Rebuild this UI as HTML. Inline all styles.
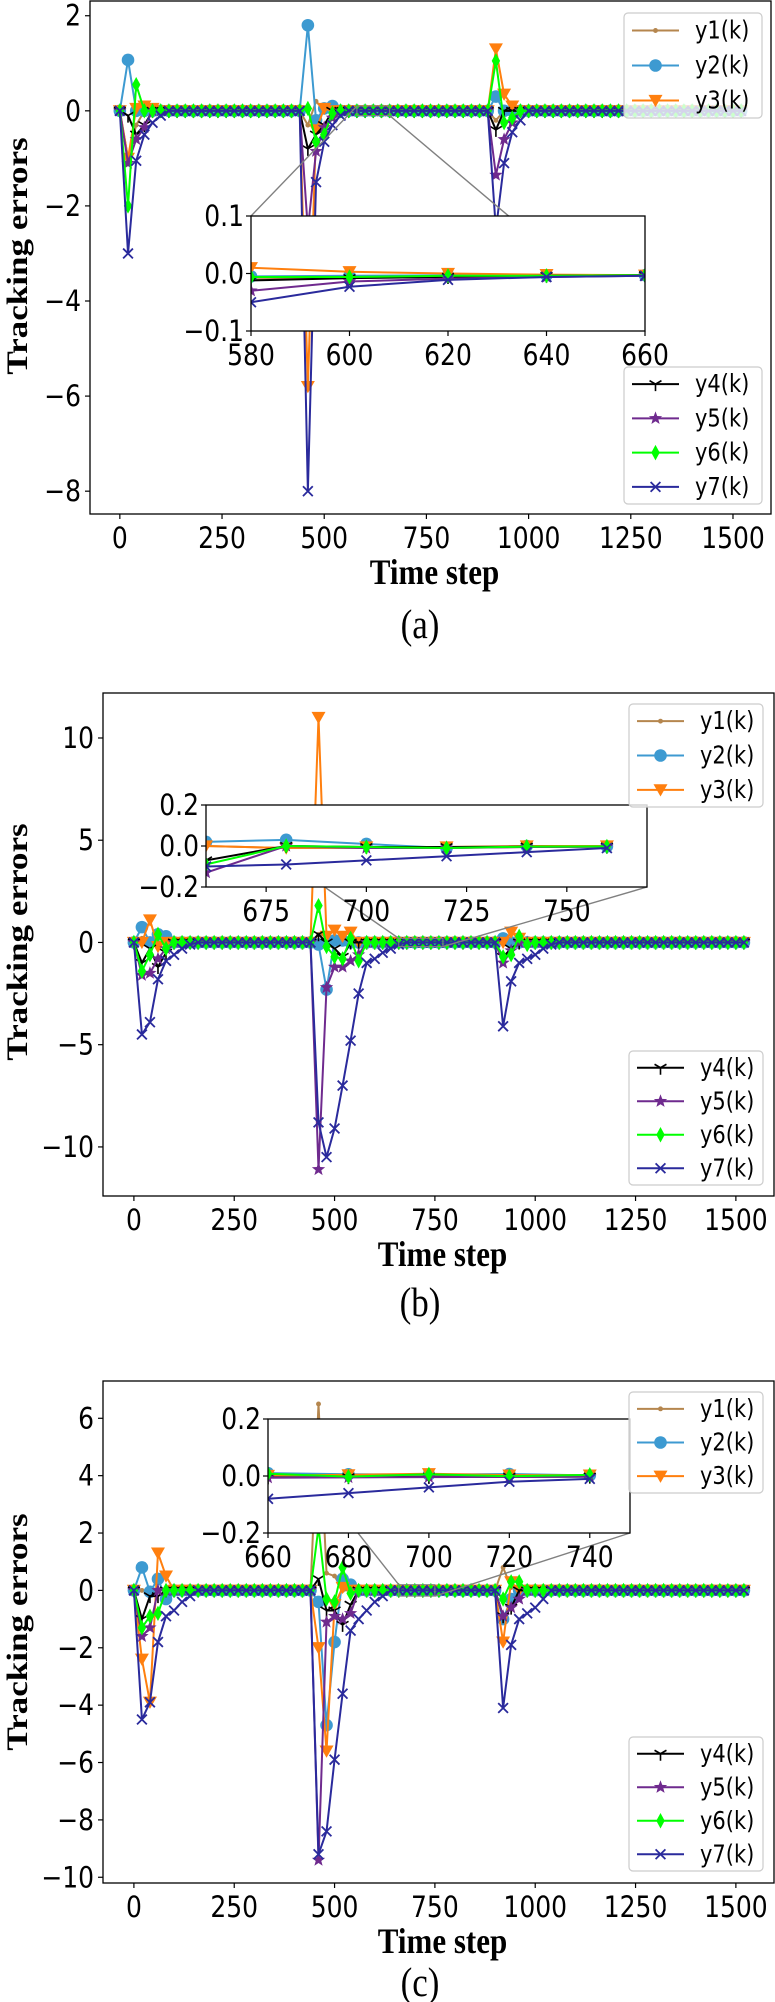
<!DOCTYPE html>
<html><head><meta charset="utf-8">
<style>
html,body{margin:0;padding:0;background:#fff;}
svg{display:block;}
text{font-family:"DejaVu Sans","Liberation Sans",sans-serif;}
.serif{font-family:"Liberation Serif",serif;}
</style></head>
<body>
<svg id="fig" width="775" height="2002" viewBox="0 0 775 2002" xmlns="http://www.w3.org/2000/svg"></svg>
<script>
// ---------- data ----------
const steps = []; for (let k = 0; k <= 1520; k += 20) steps.push(k);
const seriesNames = ['y1(k)','y2(k)','y3(k)','y4(k)','y5(k)','y6(k)','y7(k)'];
const colors = ['#b5864e','#3d9ad1','#ff7f0e','#000000','#6f2a8e','#00ff00','#2a2a9c'];
const markers = ['dot','circle','tri','y','star','diamond','x'];

// panel (a) nonzero samples [step, value]
const a_y1 = [[20,-1.0],[40,-0.3],[460,-0.3],[480,0.2],[920,-0.2]];
const a_y2 = [[20,1.07],[40,0.0],[460,1.8],[480,-0.2],[500,0.05],[520,0.1],[920,0.3],[940,0.0]];
const a_y3 = [[20,-1.0],[40,0.05],[60,0.1],[80,0.05],[460,-5.8],[480,-0.4],[500,0.05],[920,1.3],[940,0.35],[960,0.1]];
const a_y4 = [[20,-0.1],[40,-0.5],[60,-0.3],[460,-0.8],[480,-0.5],[500,-0.3],[920,-0.4],[940,0.0]];
const a_y5 = [[20,-1.1],[40,-0.6],[60,-0.35],[460,-2.5],[480,-0.85],[500,-0.35],[520,-0.15],[920,-1.35],[940,-0.6],[960,-0.25]];
const a_y6 = [[20,-2.0],[40,0.55],[60,0.0],[460,0.05],[480,-0.65],[500,-0.5],[520,-0.05],[920,1.05],[940,-0.25],[960,-0.15]];
const a_y7 = [[20,-3.0],[40,-1.05],[60,-0.5],[80,-0.25],[100,-0.1],[460,-8.0],[480,-1.5],[500,-0.65],[520,-0.3],[540,-0.1],[920,-2.5],[940,-1.1],[960,-0.45],[980,-0.2]];
// inset (a)
const ai_x = [580,600,620,640,660];
const ai_y1 = [-0.01,-0.008,-0.005,-0.004,-0.003];
const ai_y2 = [-0.005,-0.004,-0.003,-0.003,-0.003];
const ai_y3 = [0.01,0.003,0.0,-0.002,-0.003];
const ai_y4 = [-0.012,-0.008,-0.006,-0.004,-0.003];
const ai_y5 = [-0.03,-0.014,-0.009,-0.006,-0.004];
const ai_y6 = [-0.006,-0.006,-0.004,-0.004,-0.003];
const ai_y7 = [-0.05,-0.023,-0.011,-0.006,-0.004];

// panel (b)
const b_y1 = [[20,0.2],[460,0.4],[480,0.3],[500,0.1]];
const b_y2 = [[20,0.75],[40,0.0],[60,0.4],[80,0.3],[460,-0.1],[480,-2.3],[500,0.1],[520,0.1],[920,0.2]];
const b_y3 = [[40,1.1],[60,-0.2],[460,11.0],[480,0.3],[500,0.6],[520,0.3],[540,0.5],[940,0.5],[960,0.2]];
const b_y4 = [[20,-1.0],[40,-0.3],[60,-1.2],[80,-0.5],[460,0.4],[500,-0.3],[520,-0.7],[920,-0.7],[940,-0.3]];
const b_y5 = [[20,-1.6],[40,-1.5],[60,-0.8],[80,-0.3],[460,-11.1],[480,-2.2],[500,-1.2],[520,-1.2],[540,-0.9],[560,-0.6],[920,-1.0],[940,-0.4]];
const b_y6 = [[20,-1.4],[40,-0.6],[60,0.4],[80,-0.3],[460,1.8],[480,-0.2],[500,-0.7],[520,-0.8],[540,0.2],[560,-0.9],[920,-0.7],[940,-0.6],[960,0.3],[980,-0.1]];
const b_y7 = [[20,-4.5],[40,-3.9],[60,-1.8],[80,-0.9],[100,-0.6],[120,-0.3],[140,-0.1],[460,-8.8],[480,-10.5],[500,-9.1],[520,-7.0],[540,-4.8],[560,-2.5],[580,-1.0],[600,-0.8],[620,-0.5],[640,-0.3],[660,-0.1],[920,-4.1],[940,-1.9],[960,-1.0],[980,-0.8],[1000,-0.6],[1020,-0.3],[1040,-0.1]];
const bi_x = [660,680,700,720,740,760];
const bi_y1 = [0.0,-0.01,-0.01,-0.01,-0.005,-0.003];
const bi_y2 = [0.02,0.03,0.01,-0.01,0.0,-0.002];
const bi_y3 = [0.0,-0.01,-0.005,-0.005,0.0,0.0];
const bi_y4 = [-0.07,0.0,-0.005,-0.005,-0.003,-0.003];
const bi_y5 = [-0.13,0.0,-0.01,-0.01,-0.005,-0.003];
const bi_y6 = [-0.09,0.0,-0.005,-0.01,-0.003,-0.002];
const bi_y7 = [-0.1,-0.09,-0.07,-0.05,-0.03,-0.01];

// panel (c)
const c_y1 = [[460,6.5],[480,0.6],[500,0.5],[920,0.8],[940,0.1]];
const c_y2 = [[20,0.8],[40,-0.05],[60,0.4],[80,-0.3],[460,-0.4],[480,-4.7],[500,-1.8],[520,0.4],[540,0.2],[920,-1.0],[940,-0.3]];
const c_y3 = [[20,-2.4],[40,-3.9],[60,1.3],[80,0.5],[460,-2.0],[480,-5.6],[500,-0.5],[520,0.1],[920,-1.8],[940,0.3]];
const c_y4 = [[20,-1.0],[40,-0.2],[60,-0.2],[460,0.4],[480,-0.7],[500,-0.7],[520,-1.2],[540,-0.5],[920,-0.9],[940,-0.6]];
const c_y5 = [[20,-1.6],[40,-1.3],[460,-9.4],[480,-1.1],[500,-0.9],[520,-1.0],[540,-0.8],[920,-0.9],[940,-0.6],[960,-0.3]];
const c_y6 = [[20,-1.3],[40,-0.9],[60,-0.8],[80,0.0],[460,2.2],[480,-0.3],[500,-0.4],[520,0.8],[540,-0.1],[920,-0.3],[940,0.3],[960,0.3]];
const c_y7 = [[20,-4.5],[40,-3.9],[60,-1.8],[80,-0.9],[100,-0.7],[120,-0.4],[140,-0.2],[460,-9.2],[480,-8.4],[500,-5.9],[520,-3.6],[540,-1.4],[560,-1.0],[580,-0.7],[600,-0.4],[620,-0.2],[920,-4.1],[940,-1.9],[960,-1.0],[980,-0.8],[1000,-0.6],[1020,-0.3]];
const ci_x = [660,680,700,720,740];
const ci_y1 = [0.005,0.003,0.004,0.002,0.002];
const ci_y2 = [0.01,0.006,0.005,0.007,0.002];
const ci_y3 = [0.002,0.004,0.008,0.003,0.003];
const ci_y4 = [-0.005,-0.004,-0.003,-0.003,-0.002];
const ci_y5 = [-0.006,-0.005,-0.004,-0.003,-0.002];
const ci_y6 = [0.008,-0.002,0.006,-0.001,0.004];
const ci_y7 = [-0.08,-0.06,-0.04,-0.02,-0.01];

const xTicks = [0,250,500,750,1000,1250,1500];
const aYTicks = [2,0,-2,-4,-6,-8];
const bYTicks = [10,5,0,-5,-10];
const cYTicks = [6,4,2,0,-2,-4,-6,-8,-10];
const aiXTicks = [580,600,620,640,660], aiYTicks = [0.1,0.0,-0.1];
const biXTicks = [675,700,725,750], biYTicks = [0.2,0.0,-0.2];
const ciXTicks = [660,680,700,720,740], ciYTicks = [0.2,0.0,-0.2];

// ---------- drawing ----------
const NS = 'http://www.w3.org/2000/svg';
const svg = document.getElementById('fig');
const SY = 1.17; // vertical stretch of text in reference
const MS = 7;    // marker size
function el(tag, attrs, parent) {
  const e = document.createElementNS(NS, tag);
  for (const k in attrs) e.setAttribute(k, attrs[k]);
  (parent || svg).appendChild(e);
  return e;
}
function txt(parent, x, y, str, size, anchor, extra) {
  const a = {x:0, y:0, 'font-size':size, 'text-anchor':anchor, transform:`translate(${x},${y}) scale(1,${SY})`};
  for (const k in (extra || {})) a[k] = extra[k];
  const t = el('text', a, parent);
  t.textContent = str;
  return t;
}
function fmt(v, dec) { const s = v.toFixed(dec); return (v < 0 ? '\u2212' + s.slice(1) : (s === '-0.0' ? '0.0' : s)); }
function full(sparse) {
  const m = {}; sparse.forEach(p => { m[p[0]] = p[1]; });
  return steps.map(k => (k in m ? m[k] : 0));
}
function marker(g, type, x, y, c, s) {
  let m;
  if (type === 'dot') m = el('circle', {cx:x, cy:y, r:s*0.35, fill:c}, g);
  else if (type === 'circle') m = el('circle', {cx:x, cy:y, r:s*0.9, fill:c}, g);
  else if (type === 'tri') m = el('path', {d:`M${x-s},${y-s*0.8}L${x+s},${y-s*0.8}L${x},${y+s*0.95}Z`, fill:c}, g);
  else if (type === 'y') m = el('path', {d:`M${x},${y}L${x},${y+s}M${x},${y}L${x-s*0.85},${y-s*0.5}M${x},${y}L${x+s*0.85},${y-s*0.5}`, stroke:c, 'stroke-width':1.6, fill:'none'}, g);
  else if (type === 'star') {
    let d = ''; for (let i = 0; i < 10; i++) { const r = i % 2 ? s*0.42 : s; const a = -Math.PI/2 + i*Math.PI/5; d += (i ? 'L' : 'M') + (x + r*Math.cos(a)).toFixed(2) + ',' + (y + r*Math.sin(a)).toFixed(2); }
    m = el('path', {d:d + 'Z', fill:c}, g);
  }
  else if (type === 'diamond') m = el('path', {d:`M${x},${y-s*1.1}L${x+s*0.6},${y}L${x},${y+s*1.1}L${x-s*0.6},${y}Z`, fill:c}, g);
  else if (type === 'x') m = el('path', {d:`M${x-s*0.7},${y-s*0.7}L${x+s*0.7},${y+s*0.7}M${x-s*0.7},${y+s*0.7}L${x+s*0.7},${y-s*0.7}`, stroke:c, 'stroke-width':1.8, fill:'none'}, g);
  return m;
}
function drawSeries(g, xs, ys, sx, sy, i, ms) {
  const pts = xs.map((x, j) => [sx(x), sy(ys[j])]);
  const line = el('polyline', {points: pts.map(p => p[0].toFixed(2) + ',' + p[1].toFixed(2)).join(' '), fill:'none', stroke:colors[i], 'stroke-width':2, 'stroke-linejoin':'round'}, g);
  
  
  pts.forEach(p => {
    const m = marker(g, markers[i], p[0], p[1], colors[i], ms);
    
    
  });
}
function legend(x0, y0, x1, y1, idx, name) {
  const g = el('g', {});
  
  
  el('rect', {x:x0, y:y0, width:x1-x0, height:y1-y0, rx:4, fill:'rgba(255,255,255,0.8)', stroke:'#cccccc', 'stroke-width':1.2}, g);
  const gap = (y1 - y0) / idx.length;
  idx.forEach((i, j) => {
    const cy = y0 + gap*(j + 0.5);
    const e = el('g', {}, g);
    
    
    el('line', {x1:x0+8, x2:x0+55, y1:cy, y2:cy, stroke:colors[i], 'stroke-width':2}, e);
    marker(e, markers[i], x0+31.5, cy, colors[i], MS);
    txt(e, x0+71, cy+8, seriesNames[i], 21, 'start');
  });
}
function panel(P) {
  const g = el('g', {});
  
  
  const sx = v => P.bx0 + (v - P.xmin) / (P.xmax - P.xmin) * (P.bx1 - P.bx0);
  const sy = v => P.by1 - (v - P.ymin) / (P.ymax - P.ymin) * (P.by1 - P.by0);
  const clipId = 'clip' + P.id;
  const cp = el('clipPath', {id:clipId}, g); el('rect', {x:P.bx0, y:P.by0, width:P.bx1-P.bx0, height:P.by1-P.by0}, cp);
  const plot = el('g', {'clip-path':'url(#' + clipId + ')'}, g);
  
  
  P.data.forEach((d, i) => drawSeries(plot, steps, full(d), sx, sy, i, MS));
  el('rect', {x:P.bx0, y:P.by0, width:P.bx1-P.bx0, height:P.by1-P.by0, fill:'none', stroke:'#000', 'stroke-width':1.3}, g);
  xTicks.forEach(v => {
    const x = sx(v);
    el('line', {x1:x, x2:x, y1:P.by1, y2:P.by1+5, stroke:'#000', 'stroke-width':1.2}, g);
    const t = txt(g, x, P.by1+34, String(v), 25, 'middle');
    
    
  });
  P.yTicks.forEach(v => {
    const y = sy(v);
    el('line', {x1:P.bx0-5, x2:P.bx0, y1:y, y2:y, stroke:'#000', 'stroke-width':1.2}, g);
    const t = txt(g, P.bx0-9, y+10, fmt(v, 0), 25, 'end');
    
    
  });
  const xl = txt(g, (P.bx0+P.bx1)/2+4, P.by1+70, 'Time step', 31, 'middle', {'font-weight':'bold', class:'serif'});
   
  const yl = el('text', {x:0, y:0, 'font-size':30, 'font-weight':'bold', 'text-anchor':'middle', class:'serif', transform:`translate(${P.ylx},${P.yly}) rotate(-90) scale(${SY},1)`}, g);
   
  yl.textContent = 'Tracking errors';
  const cap = txt(g, 420, P.capY, '(' + P.id + ')', 35, 'middle', {class:'serif'});
   
  // inset
  const I = P.inset;
  const ix = v => I.x0 + (v - I.xmin) / (I.xmax - I.xmin) * (I.x1 - I.x0);
  const iy = v => I.y1 - (v - I.ymin) / (I.ymax - I.ymin) * (I.y1 - I.y0);
  const conn = el('g', {}, g);
   
  el('line', {x1:I.x0, y1:I.y0, x2:sx(I.xmin), y2:sy(I.ymax), stroke:'#808080', 'stroke-width':1.4}, conn);
  el('line', {x1:I.x1, y1:I.y1, x2:sx(I.xmax), y2:sy(I.ymin), stroke:'#808080', 'stroke-width':1.4}, conn);
  el('rect', {x:sx(I.xmin), y:sy(I.ymax), width:sx(I.xmax)-sx(I.xmin), height:Math.max(1, sy(I.ymin)-sy(I.ymax)), fill:'none', stroke:'#808080', 'stroke-width':1}, conn);
  const ig = el('g', {}, g);
   
  el('rect', {x:I.x0, y:I.y0, width:I.x1-I.x0, height:I.y1-I.y0, fill:'#fff'}, ig);
  const icp = el('clipPath', {id:'iclip' + P.id}, ig); el('rect', {x:I.x0, y:I.y0, width:I.x1-I.x0, height:I.y1-I.y0}, icp);
  const ip = el('g', {'clip-path':'url(#iclip' + P.id + ')'}, ig);
  I.ys.forEach((ys, i) => drawSeries(ip, I.xs, ys, ix, iy, i, MS));
  el('rect', {x:I.x0, y:I.y0, width:I.x1-I.x0, height:I.y1-I.y0, fill:'none', stroke:'#000', 'stroke-width':1.3}, ig);
  I.xTicks.forEach(v => {
    const x = ix(v);
    el('line', {x1:x, x2:x, y1:I.y1, y2:I.y1+5, stroke:'#000', 'stroke-width':1.2}, ig);
    const t = txt(ig, x, I.y1+34, String(v), 25, 'middle');
     
  });
  I.yTicks.forEach(v => {
    const y = iy(v);
    el('line', {x1:I.x0-5, x2:I.x0, y1:y, y2:y, stroke:'#000', 'stroke-width':1.2}, ig);
    const t = txt(ig, I.x0-7, y+10, fmt(v, 1), 25, 'end');
     
  });
  legend(P.lx0, P.lt0, P.lx1, P.lt1, [0,1,2], 'legend-top-' + P.id);
  legend(P.lx0, P.lb0, P.lx1, P.lb1, [3,4,5,6], 'legend-bottom-' + P.id);
}

panel({id:'a', bx0:90, bx1:771, by0:1, by1:514, xmin:-73, xmax:1593, ymin:-8.48, ymax:2.31,
  yTicks:aYTicks, data:[a_y1,a_y2,a_y3,a_y4,a_y5,a_y6,a_y7], ylx:27, yly:256, capY:638,
  lx0:624, lx1:762, lt0:13, lt1:118, lb0:367, lb1:504,
  inset:{x0:251, x1:645, y0:216, y1:331, xmin:580, xmax:660, ymin:-0.1, ymax:0.1,
    xs:ai_x, ys:[ai_y1,ai_y2,ai_y3,ai_y4,ai_y5,ai_y6,ai_y7], xTicks:aiXTicks, yTicks:aiYTicks}});
panel({id:'b', bx0:103, bx1:774, by0:693, by1:1196, xmin:-77, xmax:1595, ymin:-12.4, ymax:12.2,
  yTicks:bYTicks, data:[b_y1,b_y2,b_y3,b_y4,b_y5,b_y6,b_y7], ylx:27, yly:942, capY:1316,
  lx0:629, lx1:763, lt0:704, lt1:807, lb0:1051, lb1:1185,
  inset:{x0:206, x1:647, y0:805, y1:887, xmin:660, xmax:770, ymin:-0.2, ymax:0.2,
    xs:bi_x, ys:[bi_y1,bi_y2,bi_y3,bi_y4,bi_y5,bi_y6,bi_y7], xTicks:biXTicks, yTicks:biYTicks}});
panel({id:'c', bx0:103, bx1:774, by0:1381, by1:1883, xmin:-77, xmax:1595, ymin:-10.2, ymax:7.3,
  yTicks:cYTicks, data:[c_y1,c_y2,c_y3,c_y4,c_y5,c_y6,c_y7], ylx:27, yly:1632, capY:1996,
  lx0:629, lx1:763, lt0:1392, lt1:1493, lb0:1737, lb1:1871,
  inset:{x0:268, x1:630, y0:1419, y1:1533, xmin:660, xmax:750, ymin:-0.2, ymax:0.2,
    xs:ci_x, ys:[ci_y1,ci_y2,ci_y3,ci_y4,ci_y5,ci_y6,ci_y7], xTicks:ciXTicks, yTicks:ciYTicks}});
</script>
</body></html>
